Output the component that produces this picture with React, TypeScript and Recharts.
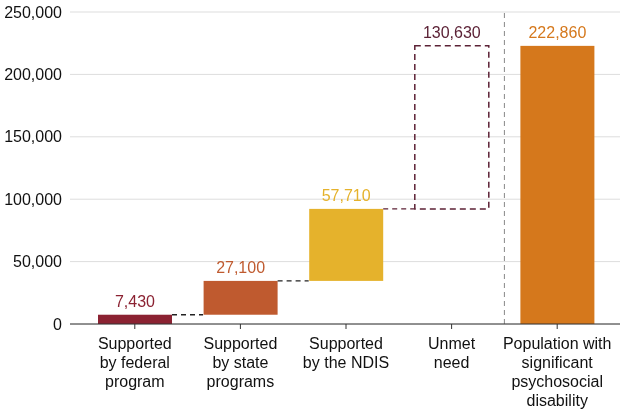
import { BarChart, Bar, XAxis, YAxis, CartesianGrid, ReferenceLine, LabelList } from 'recharts';

const categories = ['Supported\nby federal\nprogram', 'Supported\nby state\nprograms', 'Supported\nby the NDIS', 'Unmet\nneed', 'Population with\nsignificant\npsychosocial\ndisability'];
const values = [7430, 27100, 57710, 130630, 222860];
const bases = [0, 7430, 34530, 92240, 0];
const colors = ['#8b2232', '#bf5a2f', '#e5b22c', '#5c2236', '#d5781c'];
const yTicks = [0, 50000, 100000, 150000, 200000, 250000];

const data = categories.map((name, i) => ({ name, base: bases[i], value: values[i], color: colors[i], idx: i }));

const fmt = (v: number) => v.toLocaleString('en-US');
const FONT = 'Liberation Sans, Arial, sans-serif';

const ValueShape = (props: any) => {
    const { x, y, width, height, payload } = props;
    const gap = width * 0.42;
    const i = payload.idx;
    const connector = i < 3 ? (
        <line x1={x + width} x2={x + width + gap} y1={y} y2={y}
            stroke={i === 2 ? '#5c2236' : '#222'} strokeWidth={1.3} strokeDasharray="5 4" />
    ) : null;
    if (i === 3) {
        return (
            <g>
                <rect x={x} y={y} width={width} height={height} fill="none" stroke={payload.color} strokeWidth={1.5} strokeDasharray="6 4" />
            </g>
        );
    }
    return (
        <g>
            <rect x={x} y={y} width={width} height={height} fill={payload.color} />
            {connector}
        </g>
    );
};

const XTick = (props: any) => {
    const { x, y, payload } = props;
    const lines = String(payload.value).split('\n');
    return (
        <text x={x} y={y + 6} textAnchor="middle" fontSize={16} fontFamily={FONT} fill="#111">
            {lines.map((l, k) => <tspan key={k} x={x} dy={k === 0 ? 12 : 19}>{l}</tspan>)}
        </text>
    );
};

const ValueLabel = (props: any) => {
    const { x, y, width, index } = props;
    return (
        <text x={x + width / 2} y={y - 8} textAnchor="middle" fontSize={16} fontFamily={FONT} fill={colors[index]}>
            {fmt(values[index])}
        </text>
    );
};

const App = () => {
    return (
        <div style={{ position: 'fixed', top: 0, left: 0 }}>
            <BarChart width={628} height={411} data={data} margin={{ top: 12, right: 8, left: 0, bottom: 0 }}>
                <CartesianGrid vertical={false} stroke="#ddd" />
                <XAxis dataKey="name" interval={0} tick={<XTick />} height={87} padding={{ left: 12, right: 10 }}
                    axisLine={{ stroke: '#333' }} tickLine={{ stroke: '#333' }} tickSize={5} />
                <YAxis domain={[0, 250000]} ticks={yTicks} tickFormatter={fmt} width={70} axisLine={false} tickLine={false}
                    tick={{ fontSize: 16, fill: '#111', fontFamily: FONT }} />
                <ReferenceLine x={categories[3]} position="end" stroke="#888" strokeDasharray="5 4" />
                <Bar dataKey="base" stackId="a" fill="transparent" barSize={74} isAnimationActive={false} />
                <Bar dataKey="value" stackId="a" barSize={74} shape={<ValueShape />} isAnimationActive={false}>
                    <LabelList dataKey="value" content={<ValueLabel />} />
                </Bar>
            </BarChart>
        </div>
    );
};

export default App;
